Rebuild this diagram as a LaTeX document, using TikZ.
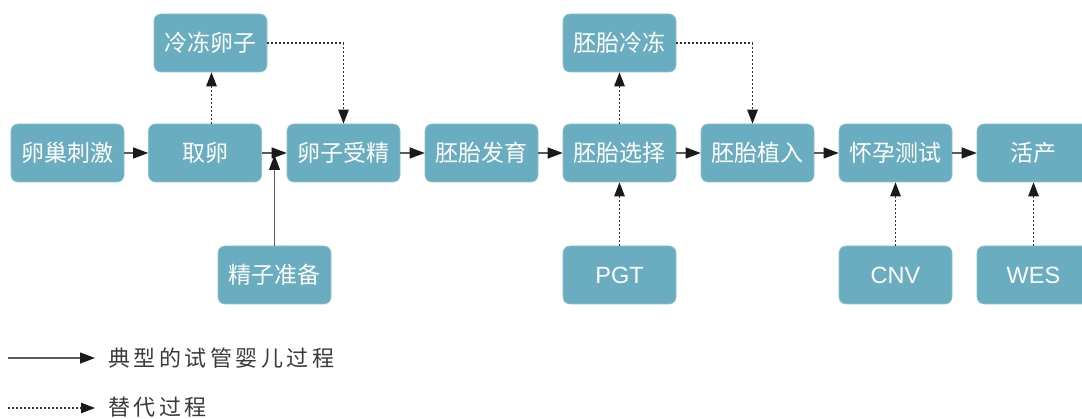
\documentclass[tikz,border=0pt]{standalone}
\usepackage{fontspec}
\usetikzlibrary{arrows.meta,calc}
\newfontfamily\cjk{Noto Sans CJK SC}
\newfontfamily\latinsans{Liberation Sans}
\newfontfamily\legendfont[LetterSpace=16]{Noto Sans CJK SC}
\definecolor{boxfill}{HTML}{6AADC0}
\definecolor{boxline}{HTML}{8CC2D1}
\definecolor{mainline}{HTML}{5A5A5A}
\definecolor{dotline}{HTML}{333333}
\definecolor{legendtext}{HTML}{3A3A3A}
\definecolor{tipcol}{HTML}{1A1A1A}
\tikzset{
  stage/.style={rectangle, rounded corners=7pt, fill=boxfill, draw=boxline, line width=0.6pt,
    minimum width=113pt, minimum height=58pt, inner sep=0pt,
    text=white, font=\cjk\fontsize{23}{26}\selectfont},
  teststage/.style={stage, font=\latinsans\fontsize{23.5}{26}\selectfont},
  flow/.style={draw=mainline, line width=1.1pt,
    -{Triangle[length=15pt,width=11pt,color=tipcol,fill=tipcol]}},
  alt/.style={draw=dotline, line width=1.1pt, dash pattern=on 2pt off 2pt,
    -{Triangle[length=14pt,width=10.5pt,color=tipcol,fill=tipcol,sep=0pt]}},
  legendlabel/.style={anchor=west, inner sep=0pt, text=legendtext,
    font=\legendfont\fontsize{22}{24}\selectfont}
}
\begin{document}
\begin{tikzpicture}[x=1pt,y=-1pt]
\useasboundingbox (0,0) rectangle (1082,419);

% main route
\node[stage] (ovary)    at (67.5,153)  {卵巢刺激};
\node[stage] (retrieve) at (205,153)   {取卵};
\node[stage] (fert)     at (343.5,153) {卵子受精};
\node[stage] (dev)      at (481.5,153) {胚胎发育};
\node[stage] (select)   at (619.5,153) {胚胎选择};
\node[stage] (transfer) at (757.5,153) {胚胎植入};
\node[stage] (preg)     at (895.5,153) {怀孕测试};
\node[stage] (birth)    at (1033.5,153){活产};

% side stages
\node[stage] (freezeegg) at (210.5,43)  {冷冻卵子};
\node[stage] (freezeemb) at (619.5,43)  {胚胎冷冻};
\node[stage] (sperm)     at (274.5,275) {精子准备};
\node[teststage] (pgt)   at (619.5,275) {PGT};
\node[teststage] (cnv)   at (895.5,275) {CNV};
\node[teststage] (wes)   at (1033.5,275){WES};

% typical IVF route
\draw[flow] (ovary) -- (retrieve);
\draw[flow] (retrieve) -- (fert);
\draw[flow] (fert) -- (dev);
\draw[flow] (dev) -- (select);
\draw[flow] (select) -- (transfer);
\draw[flow] (transfer) -- (preg);
\draw[flow] (preg) -- (birth);
\coordinate (join) at (274.5,155);
\draw[flow] (sperm.north) -- (join);

% alternative routes
\draw[alt] ([xshift=6.5pt]retrieve.north) -- ([xshift=6.5pt]retrieve.north |- freezeegg.south);
\draw[alt] (freezeegg.east) -| (fert.north);
\draw[alt] (select.north) -- (freezeemb.south);
\draw[alt] (freezeemb.east) -| ([xshift=-5pt]transfer.north);
\draw[alt] (pgt.north) -- (select.south);
\draw[alt] (cnv.north) -- (preg.south);
\draw[alt] (wes.north) -- (birth.south);

% legend
\coordinate (solidA) at (8,358);
\coordinate (solidB) at (95,358);
\coordinate (dotA) at (8,408);
\coordinate (dotB) at (95,408);
\draw[flow] (solidA) -- (solidB);
\draw[alt] (dotA) -- (dotB);
\node[legendlabel] (solidtxt) at (108,358) {典型的试管婴儿过程};
\node[legendlabel] (dottxt)   at (108,407) {替代过程};
\end{tikzpicture}
\end{document}
